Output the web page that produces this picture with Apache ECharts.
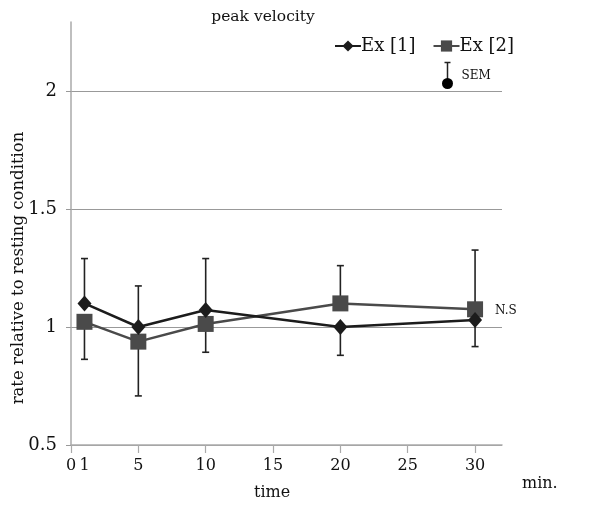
<!DOCTYPE html>
<html><head><meta charset="utf-8">
<script src="https://cdn.jsdelivr.net/npm/echarts@6/dist/echarts.min.js"></script>
<style>html,body{margin:0;padding:0;background:#fff}#c{width:608px;height:508px}</style>
</head><body><div id="c"></div>
<script>
var times = [1, 5, 10, 20, 30];
var ex1 = [1.10, 1.00, 1.072, 1.00, 1.03];
var ex2 = [1.022, 0.938, 1.013, 1.10, 1.075];
// end value of the SEM bar drawn from each point
var ex1Sem = [1.29, 1.174, 1.29, 0.88, 0.917];
var ex2Sem = [0.863, 0.708, 0.893, 1.26, 1.326];
var xTicks = [0, 5, 10, 15, 20, 25, 30];
var xLabels = [0, 1, 5, 10, 15, 20, 25, 30];
var yTicks = [0.5, 1, 1.5, 2];

var FONT = 'DejaVu Serif';
var c1 = '#1c1c1c', c2 = '#4a4a4a';

function pairs(xs, ys){ return xs.map(function(x,i){return [x, ys[i]];}); }
function semData(xs, ys, es){ return xs.map(function(x,i){return [x, ys[i], es[i]];}); }

function errRender(params, api){
  var p0 = api.coord([api.value(0), api.value(1)]);
  var p1 = api.coord([api.value(0), api.value(2)]);
  var st = {stroke: '#222', lineWidth: 1.6};
  return {type:'group', children:[
    {type:'line', shape:{x1:p0[0], y1:p0[1], x2:p1[0], y2:p1[1]}, style:st},
    {type:'line', shape:{x1:p1[0]-3.5, y1:p1[1], x2:p1[0]+3.5, y2:p1[1]}, style:st}
  ]};
}

var chart = echarts.init(document.getElementById('c'), null, {renderer:'canvas'});
chart.setOption({
  animation: false,
  backgroundColor: '#fff',
  textStyle: {fontFamily: FONT},
  title: {text: 'peak velocity', left: 258, top: 4, textAlign: 'center',
    textStyle: {fontFamily: FONT, fontSize: 15.5, fontWeight: 'normal', color: '#111'}},
  legend: {data: ['Ex [1]', 'Ex [2]'], left: 329, top: 32, itemWidth: 26, itemHeight: 14, itemGap: 17,
    textStyle: {fontFamily: FONT, fontSize: 18, color: '#111', padding: [0,0,0,-5]}},
  grid: [
    {left: 71, right: 106, top: 22, bottom: 63, outerBoundsMode: 'none', containLabel: false},
    {left: 71, right: 106, top: 91, bottom: 63, outerBoundsMode: 'none', containLabel: false}
  ],
  xAxis: [
    {gridIndex: 0, type: 'value', min: 0, max: 32, show: false},
    {gridIndex: 1, type: 'value', min: 0, max: 32,
      axisLine: {lineStyle: {color: '#aaa', width: 1.5}},
      axisTick: {customValues: xTicks, length: 8, lineStyle: {color: '#aaa', width: 1.2}},
      axisLabel: {customValues: xLabels, margin: 13, fontFamily: FONT, fontSize: 16, color: '#111'},
      splitLine: {show: false}}
  ],
  yAxis: [
    {gridIndex: 0, type: 'value', min: 0.5, max: 2.3,
      axisLine: {show: true, lineStyle: {color: '#aaa', width: 1.5}},
      axisTick: {show: false}, axisLabel: {show: false}, splitLine: {show: false}},
    {gridIndex: 1, type: 'value', min: 0.5, max: 2, interval: 0.5,
      name: 'rate relative to resting condition', nameLocation: 'middle', nameGap: 44,
      nameMoveOverlap: false,
      nameTextStyle: {fontFamily: FONT, fontSize: 16.5, color: '#111'},
      axisLine: {show: false},
      axisTick: {show: true, inside: false, length: 5, lineStyle: {color: '#999'}},
      axisLabel: {margin: 14, fontFamily: FONT, fontSize: 18, color: '#111',
        formatter: function(v){ return String(v); }},
      splitLine: {show: true, lineStyle: {color: '#999', width: 1}}}
  ],
  graphic: [
    {type: 'text', left: 254, top: 485, style: {text: 'time', font: '16px "DejaVu Serif"', fill: '#111'}},
    {type: 'text', left: 522, top: 476, style: {text: 'min.', font: '16px "DejaVu Serif"', fill: '#111'}},
    {type: 'group', left: 442, top: 60, children: [
      {type: 'line', shape: {x1: 5, y1: 1, x2: 5, y2: 20}, style: {stroke: '#222', lineWidth: 1.5}},
      {type: 'line', shape: {x1: 2, y1: 1, x2: 8, y2: 1}, style: {stroke: '#222', lineWidth: 1.5}},
      {type: 'circle', shape: {cx: 5, cy: 22, r: 5.5}, style: {fill: '#000'}},
      {type: 'text', x: 19, y: 8, style: {text: 'SEM', font: '12px "DejaVu Serif"', fill: '#111'}}
    ]}
  ],
  series: [
    {type: 'custom', xAxisIndex: 1, yAxisIndex: 1, renderItem: errRender, data: semData(times, ex1, ex1Sem), z: 1, silent: true},
    {type: 'custom', xAxisIndex: 1, yAxisIndex: 1, renderItem: errRender, data: semData(times, ex2, ex2Sem), z: 1, silent: true},
    {name: 'Ex [2]', type: 'line', xAxisIndex: 1, yAxisIndex: 1, data: pairs(times, ex2),
      symbol: 'rect', symbolSize: 16, z: 3,
      lineStyle: {color: c2, width: 2.5}, itemStyle: {color: c2},
      label: {show: true, position: 'right', distance: 12,
        formatter: function(p){ return p.dataIndex === times.length - 1 ? 'N.S' : ''; },
        fontFamily: FONT, fontSize: 12, color: '#111', offset: [0, 2]}},
    {name: 'Ex [1]', type: 'line', xAxisIndex: 1, yAxisIndex: 1, data: pairs(times, ex1),
      symbol: 'diamond', symbolSize: [14, 16], z: 4,
      lineStyle: {color: c1, width: 2.5}, itemStyle: {color: c1}}
  ]
});
</script></body></html>
